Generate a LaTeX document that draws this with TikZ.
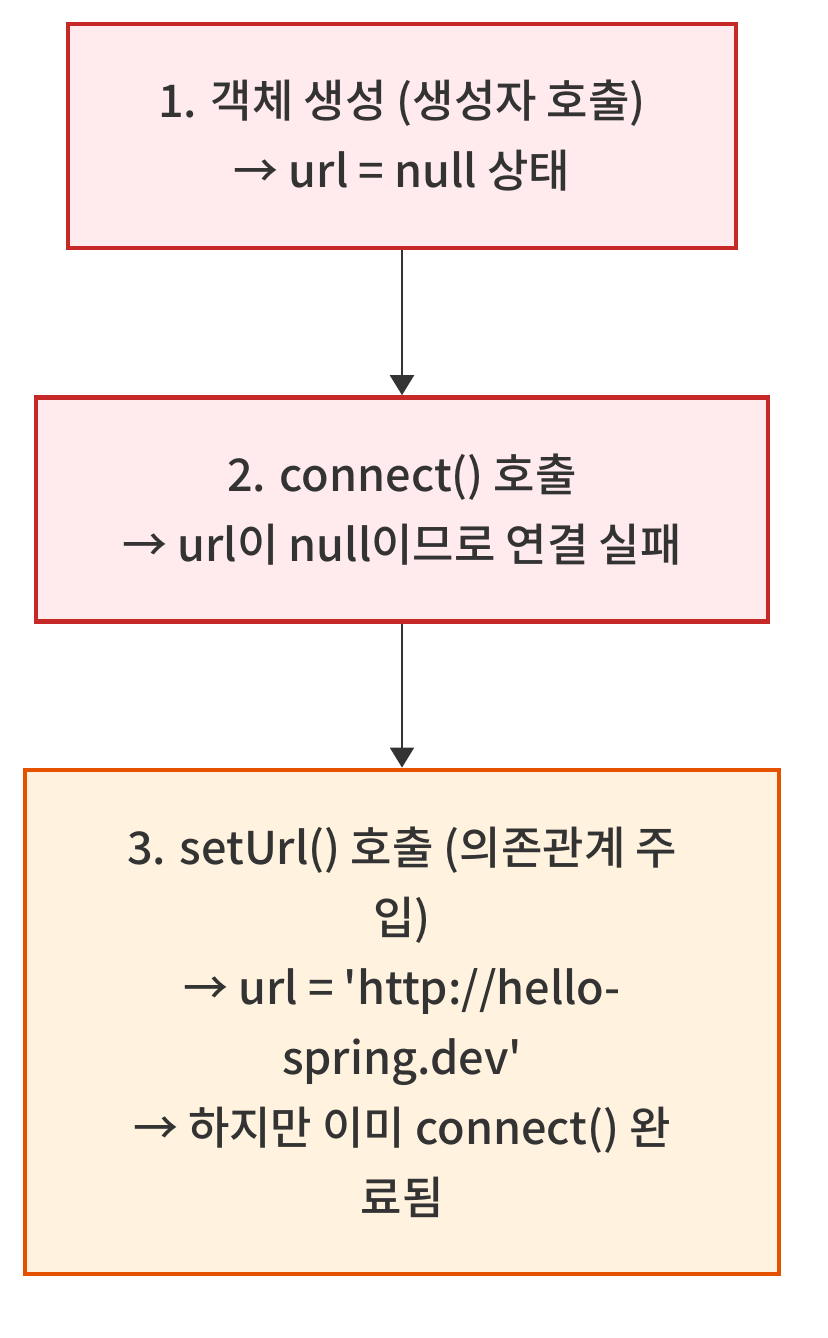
\documentclass[tikz,border=0pt]{standalone}
\usepackage{fontspec}
\setmainfont{Noto Sans CJK KR}[UprightFont=* Medium,Ligatures=TeXOff]
\usetikzlibrary{positioning,arrows.meta}
\definecolor{failline}{HTML}{C62828}
\definecolor{failfill}{HTML}{FFEBEE}
\definecolor{lateline}{HTML}{E65100}
\definecolor{latefill}{HTML}{FFF3E0}
\definecolor{ink}{HTML}{333333}
\newcommand{\stepfont}{\fontsize{22.5}{35}\selectfont}

\begin{document}
\begin{tikzpicture}[
	box/.style={draw=#1line,fill=#1fill,line width=2.2pt,
		align=center,text=ink,font=\stepfont,inner sep=0pt},
	flow/.style={draw=ink,line width=1pt,-{Triangle[length=10pt,width=12pt]}}
	]
	\useasboundingbox (0,0) rectangle (414pt,-669pt);

	\node[box=fail,minimum width=334pt,minimum height=112pt] (create) at (201pt,-68pt)
		{1. 객체 생성 (생성자 호출)\\→ url = null 상태};
	\node[box=fail,minimum width=366pt,minimum height=112pt,below=72.5pt of create] (connect)
		{2. connect() 호출\\→ url이 null이므로 연결 실패};
	\node[box=late,minimum width=377pt,minimum height=252pt,below=72pt of connect] (seturl)
		{3. setUrl() 호출 (의존관계 주\\입)\\→ url = 'http://hello-\\spring.dev'\\→ 하지만 이미 connect() 완\\료됨};

	\draw[flow] (create) -- (connect);
	\draw[flow] (connect) -- (seturl);
\end{tikzpicture}
\end{document}
